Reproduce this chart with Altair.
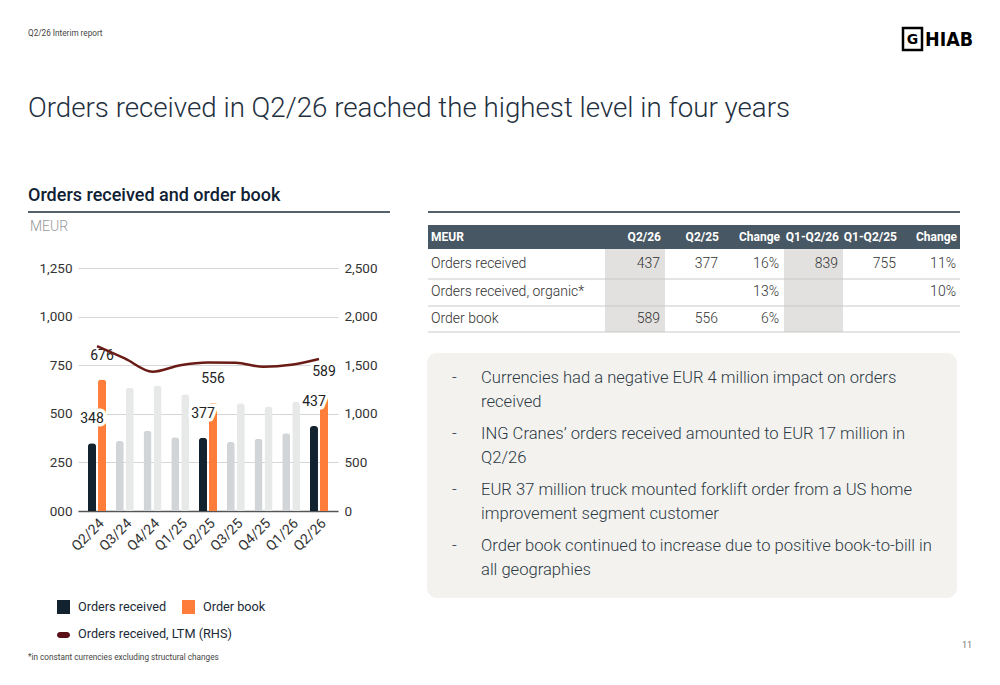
import altair as alt
import pandas as pd

# ---- chart data -------------------------------------------------------
quarters = ["Q2/24", "Q3/24", "Q4/24", "Q1/25", "Q2/25", "Q3/25", "Q4/25", "Q1/26", "Q2/26"]
orders_received = [348, 360, 413, 379, 377, 355, 372, 400, 437]
order_book = [676, 634, 646, 600, 556, 554, 537, 561, 589]
orders_ltm = [1697, 1570, 1433, 1500, 1529, 1524, 1483, 1504, 1564]
highlighted = ["Q2/24", "Q2/25", "Q2/26"]
series_names = ["Orders received", "Order book"]

left_ticks = [0, 250, 500, 750, 1000, 1250]
right_ticks = [0, 500, 1000, 1500, 2000, 2500]

# ---- table data -------------------------------------------------------
table_header = ["MEUR", "Q2/26", "Q2/25", "Change", "Q1-Q2/26", "Q1-Q2/25", "Change"]
table_rows = ["Orders received", "Orders received, organic*", "Order book"]
table_values = [
    ["437", "377", "16%", "839", "755", "11%"],
    ["", "", "13%", "", "", "10%"],
    ["589", "556", "6%", "", "", ""],
]

bullets = [
    ["Currencies had a negative EUR 4 million impact on orders", "received"],
    ["ING Cranes\u2019 orders received amounted to EUR 17 million in", "Q2/26"],
    ["EUR 37 million truck mounted forklift order from a US home", "improvement segment customer"],
    ["Order book continued to increase due to positive book-to-bill in", "all geographies"],
]

# ---- page layout ------------------------------------------------------
PAGE_W, PAGE_H = 1000, 685
PX, PY, PW, PH = 78, 268, 260, 243   # plot area of the bar chart
FONT = "Roboto"
LIGHT = "Roboto Light, Roboto"
INK = "#2b3a45"

DARK = "#13222f"
ORANGE = "#ff7d3b"
DARK_OFF = "#d2d5d7"
ORANGE_OFF = "#e7e8e8"
LTM_COLOR = "#6a1b16"

rows = []
for q, r, b in zip(quarters, orders_received, order_book):
    hi = q in highlighted
    rows.append({"quarter": q, "series": "Orders received", "value": r, "hi": hi,
                 "shade": "Orders received" if hi else "Orders received (other)"})
    rows.append({"quarter": q, "series": "Order book", "value": b, "hi": hi,
                 "shade": "Order book" if hi else "Order book (other)"})
bars_df = pd.DataFrame(rows)
labels_df = bars_df[bars_df["hi"]].copy()
ltm_df = pd.DataFrame({"quarter": quarters, "ltm": orders_ltm})

x_enc = alt.X(
    "quarter:N", sort=quarters, title=None,
    scale=alt.Scale(paddingInner=0.35, paddingOuter=0.36),
    axis=alt.Axis(labelAngle=-45, ticks=False, domain=True, domainColor="#555555",
                  domainWidth=1.5, grid=False, labelFontSize=14, labelColor="#333333",
                  labelFont=FONT, labelPadding=5),
)
xoff_enc = alt.XOffset("series:N", sort=series_names, scale=alt.Scale(paddingInner=0.2))
y_left = alt.Y(
    "value:Q", title=None, scale=alt.Scale(domain=[0, 1250], nice=False),
    axis=alt.Axis(values=left_ticks, orient="left", ticks=False, domain=False,
                  labelExpr="datum.value == 0 ? '000' : format(datum.value, ',')",
                  gridColor="#d6d6d6", gridWidth=1.2, labelFontSize=13.5,
                  labelColor="#333333", labelFont=FONT, labelPadding=6),
)

bars = alt.Chart(bars_df).mark_bar(cornerRadiusTopLeft=3, cornerRadiusTopRight=3).encode(
    x=x_enc,
    xOffset=xoff_enc,
    y=y_left,
    color=alt.Color(
        "shade:N", legend=None,
        scale=alt.Scale(
            domain=["Orders received", "Order book", "Orders received (other)", "Order book (other)"],
            range=[DARK, ORANGE, DARK_OFF, ORANGE_OFF],
        ),
    ),
)

label_base = alt.Chart(labels_df).encode(
    x=alt.X("quarter:N", sort=quarters),
    xOffset=alt.XOffset("series:N", sort=series_names),
    y=alt.Y("value:Q"),
    text=alt.Text("value:Q"),
)
halo = label_base.mark_text(dy=-24, baseline="middle", fontSize=14, font=FONT,
                            fill="white", stroke="white", strokeWidth=7, strokeJoin="round")
values_text = label_base.mark_text(dy=-24, baseline="middle", fontSize=14, font=FONT, fill="#222222")

ltm_line = alt.Chart(ltm_df).mark_line(interpolate="monotone", color=LTM_COLOR, strokeWidth=2.5).encode(
    x=alt.X("quarter:N", sort=quarters),
    y=alt.Y(
        "ltm:Q", title=None, scale=alt.Scale(domain=[0, 2500], nice=False),
        axis=alt.Axis(values=right_ticks, labelExpr="format(datum.value, ',')", orient="right",
                      ticks=False, domain=False, grid=False, labelFontSize=13.5,
                      labelColor="#333333", labelFont=FONT, labelPadding=6),
    ),
)

bar_group = alt.layer(bars, halo, values_text)

# ---- page decorations (positions in page pixels) ----------------------
anchor = pd.DataFrame({"k": [0]})


def text_at(x, y, s, size, color=INK, weight="normal", align="left", baseline="middle", font=FONT):
    return alt.Chart(anchor).mark_text(
        align=align, baseline=baseline, fontSize=size, font=font, fontWeight=weight, color=color
    ).encode(x=alt.value(x - PX), y=alt.value(y - PY), text=alt.value(s))


def rect_at(x1, y1, x2, y2, fill, radius=0, stroke=None, stroke_width=0):
    kw = {"fill": fill, "cornerRadius": radius}
    if stroke:
        kw.update(stroke=stroke, strokeWidth=stroke_width)
    return alt.Chart(anchor).mark_rect(**kw).encode(
        x=alt.value(x1 - PX), x2=alt.value(x2 - PX), y=alt.value(y1 - PY), y2=alt.value(y2 - PY)
    )


def hline(x1, x2, y, color, width):
    return alt.Chart(anchor).mark_rule(color=color, strokeWidth=width).encode(
        x=alt.value(x1 - PX), x2=alt.value(x2 - PX), y=alt.value(y - PY)
    )


deco = []
# header and logo
deco.append(text_at(28, 34, "Q2/26 Interim report", 8.2, color="#444444"))
deco.append(rect_at(903, 28, 922, 50, "white", stroke="black", stroke_width=2.5))
deco.append(text_at(912.5, 40, "G", 14, color="black", weight="bold", align="center", font="DejaVu Sans"))
deco.append(text_at(925, 39.5, "HIAB", 19.5, color="black", weight="bold",
                    font="DejaVu Sans Condensed, sans-serif"))

# titles
deco.append(text_at(28, 117, "Orders received in Q2/26 reached the highest level in four years", 27.7,
                    color="#1f3040", weight=300, baseline="alphabetic", font=LIGHT))
deco.append(text_at(28, 201, "Orders received and order book", 18, color="#0f2133", weight=500,
                    baseline="alphabetic"))
deco.append(hline(28, 390, 212, "#1d2e3c", 1.6))
deco.append(hline(428, 960, 212, "#1d2e3c", 1.6))
deco.append(text_at(30, 227, "MEUR", 14, color="#9a9a9a", weight=300, font=LIGHT))

# key table
col_right = [None, 661, 719, 780, 839, 897, 957]
row_mid = [264, 292, 319]
deco.append(rect_at(428, 225, 960, 249, "#475763"))
deco.append(rect_at(605, 249, 665, 332, "#e2e1df"))
deco.append(rect_at(784, 249, 843, 332, "#e2e1df"))
for y in [279, 306, 332]:
    deco.append(hline(428, 960, y, "#c9c9c9", 1))
for i, h in enumerate(table_header):
    if i == 0:
        deco.append(text_at(431, 237, h, 12, color="white", weight="bold"))
    else:
        deco.append(text_at(col_right[i], 237, h, 12, color="white", weight="bold", align="right"))
for r, (name, vals) in enumerate(zip(table_rows, table_values)):
    deco.append(text_at(431, row_mid[r], name, 14, color="#333333", weight=300, font=LIGHT))
    for c, v in enumerate(vals):
        if v:
            deco.append(text_at(col_right[c + 1] - 1, row_mid[r], v, 14, color="#333333",
                                weight=300, align="right", font=LIGHT))

# commentary box
deco.append(rect_at(427, 353, 957, 598, "#f4f2ef", radius=10))
line_mid = [378, 402, 434, 458, 490, 514, 546, 570]
k = 0
for item in bullets:
    deco.append(text_at(452, line_mid[k], "-", 16.6, color=INK, weight=300, font=LIGHT))
    for ln in item:
        deco.append(text_at(481, line_mid[k], ln, 16.6, color=INK, weight=300, font=LIGHT))
        k += 1

# legend
deco.append(rect_at(57, 600, 70, 614, DARK))
deco.append(text_at(78, 607, "Orders received", 12.7, color="#1b2a36"))
deco.append(rect_at(182, 600, 195, 614, ORANGE))
deco.append(text_at(203, 607, "Order book", 12.7, color="#1b2a36"))
deco.append(rect_at(57, 632, 70, 638, "#5a1016", radius=3))
deco.append(text_at(78, 634, "Orders received, LTM (RHS)", 12.7, color="#1b2a36"))

# footer
deco.append(text_at(28, 658, "*in constant currencies excluding structural changes", 8.2, color="#444444"))
deco.append(text_at(967, 645, "11", 9, color="#777777", align="center"))

chart = (
    alt.layer(*deco, bar_group, ltm_line)
    .resolve_scale(y="independent")
    .properties(
        width=PW,
        height=PH,
        padding={"left": PX, "top": PY, "right": PAGE_W - PX - PW, "bottom": PAGE_H - PY - PH},
        autosize=alt.AutoSizeParams(type="none"),
        background="white",
    )
    .configure_view(stroke=None)
)

chart.save("out.html", embed_options={"renderer": "svg", "actions": False})
